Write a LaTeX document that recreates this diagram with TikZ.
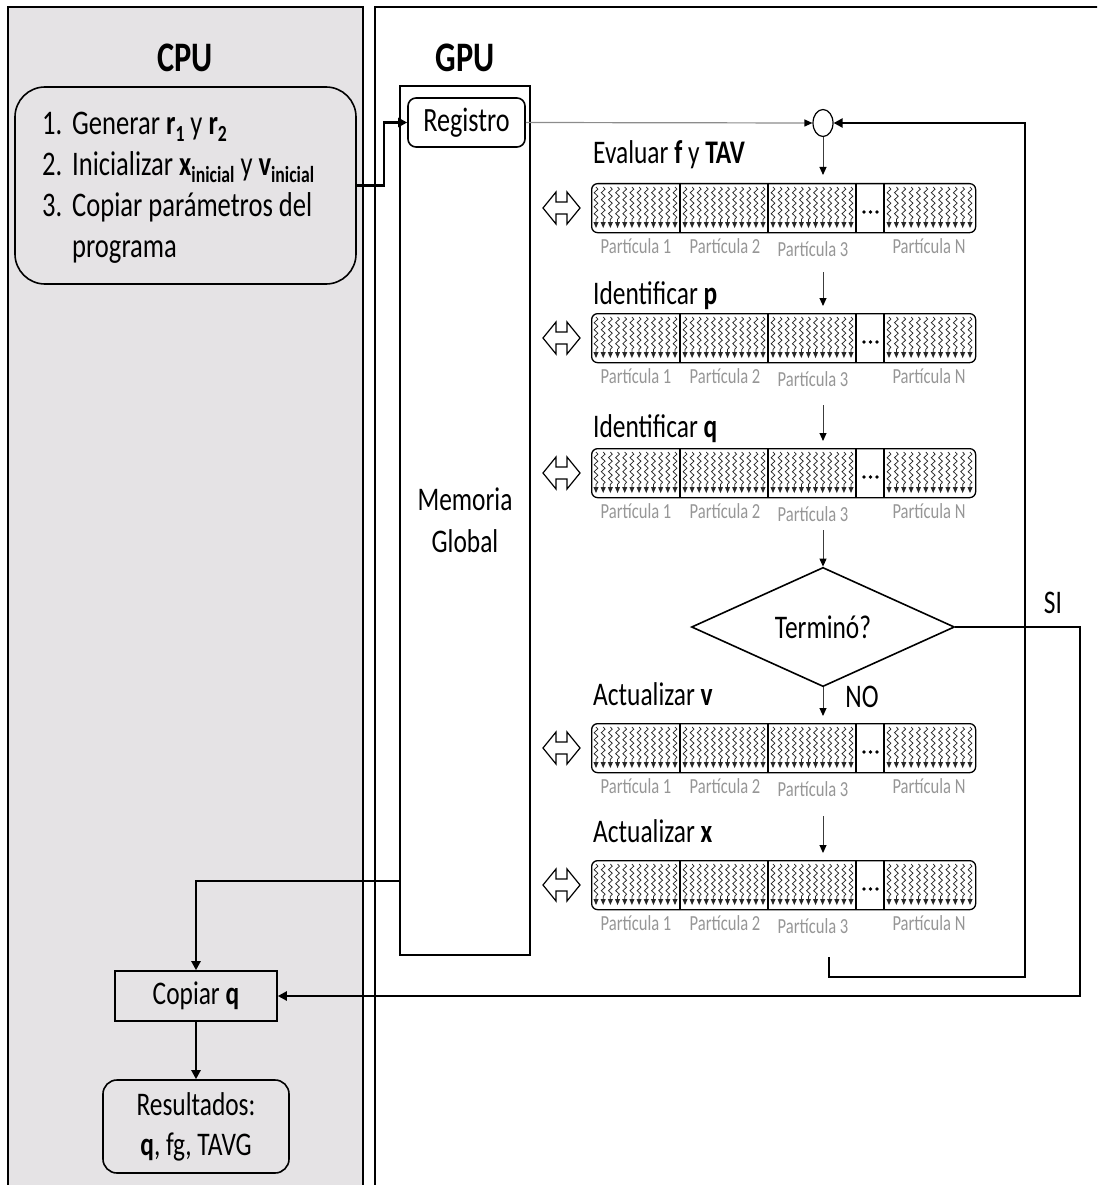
\documentclass[tikz,border=0pt]{standalone}
\usepackage{fontspec}
\setmainfont{Carlito}[FakeStretch=0.77]
\usetikzlibrary{arrows.meta,decorations.pathmorphing,shapes.geometric,calc}

\definecolor{cpugray}{RGB}{229,227,229}
\definecolor{lblgray}{RGB}{150,150,150}
\definecolor{linegray}{RGB}{140,140,140}
\definecolor{darkline}{RGB}{60,60,60}
\definecolor{squigcol}{RGB}{40,40,40}

\newcommand\mainsize{\fontsize{33}{41}\selectfont}
\newcommand\sbb[1]{\raisebox{-0.2em}{\fontsize{23}{23}\selectfont\textbf{#1}}}

% one row of particle blocks: #1 name, #2 top y, #3 title, #4 title baseline
\newcommand\gpurow[4]{%
  \node[rowtitle] (#1t) at (593,#4) {#3};
  \node[arraybox, anchor=north west] (#1) at (591,#2) {};
  \foreach \xa/\xb in {591/680,680/768,768/856,884/975}{
    \foreach \k in {0,...,11}{
      \pgfmathsetmacro\xx{\xa+5+\k*(\xb-\xa-10)/11}
      \draw[squig] (\xx,#2+4) -- (\xx,#2+39);
      \fill[squigcol] (\xx-2.6,#2+39) -- (\xx+2.6,#2+39) -- (\xx,#2+45) -- cycle;
    }
  }
  \foreach \xd in {680,768,856,884}{\draw[line width=1.1pt] (\xd,#2) -- (\xd,#2+49);}
  \foreach \xd in {864,870.5,877}{\fill (\xd,#2+29) circle (1.9);}
  \draw[line width=1.2pt, line join=miter]
    (543,#2+25) -- (556,#2+9) -- (556,#2+19) -- (567,#2+19) -- (567,#2+9)
    -- (580,#2+25) -- (567,#2+41) -- (567,#2+31) -- (556,#2+31) -- (556,#2+41) -- cycle;
  \node[plabel] (#1p1) at (636,#2+70) {Partícula 1};
  \node[plabel] (#1p2) at (725,#2+70) {Partícula 2};
  \node[plabel] (#1p3) at (813,#2+73) {Partícula 3};
  \node[plabel] (#1pN) at (929,#2+70) {Partícula N};
}

\begin{document}
\begin{tikzpicture}[x=1pt,y=-1pt, font=\mainsize,
  every node/.style={inner sep=0pt},
  panelline/.style={line width=1.6pt},
  box/.style={draw, line width=1.6pt, inner sep=0pt, align=center},
  flow/.style={line width=2.2pt, -{Triangle[length=9pt,width=9pt]}},
  down/.style={line width=1pt, draw=darkline, -{Triangle[length=8pt,width=7pt,color=black]}},
  arraybox/.style={draw, line width=1.3pt, rounded corners=6pt, minimum width=384pt, minimum height=49pt},
  squig/.style={draw=squigcol, line width=0.75pt, decorate, decoration={snake, segment length=7pt, amplitude=1.9pt}},
  plabel/.style={font=\fontsize{21.5}{24}\selectfont, text=lblgray, anchor=base},
  rowtitle/.style={anchor=base west},
  title/.style={font=\fontsize{42}{50}\selectfont\bfseries}
]
\clip (0,0) rectangle (1097,1185);

% panels
\fill[cpugray] (8,7) rectangle (363,1200);
\draw[panelline] (8,1200) -- (8,7) -- (363,7) -- (363,1200);
\draw[panelline] (375,1200) -- (375,7) -- (1100,7);

\node[title] (cpu) at (185,58) {CPU};
\node[title] (gpu) at (465,58) {GPU};

% CPU side
\node[box, rounded corners=30pt, minimum width=341pt, minimum height=197pt] (init) at (185.5,185.5) {};
\node[anchor=base west, font=\fontsize{34.5}{41}\selectfont] (initx) at (42,135) {\begin{tabular}[t]{@{}p{30pt}@{}l@{}}
1. & Generar \textbf{r}\sbb{1} y \textbf{r}\sbb{2}\\
2. & Inicializar \textbf{x}\sbb{inicial} y \textbf{v}\sbb{inicial}\\
3. & Copiar parámetros del\\
   & programa
\end{tabular}};

\node[box, minimum width=162pt, minimum height=50pt] (copiar) at (196,996) {Copiar \textbf{q}};
\node[box, rounded corners=14pt, minimum width=186pt, minimum height=93pt,
      font=\fontsize{33}{40}\selectfont] (res) at (196,1126.5) {Resultados:\\\textbf{q}, fg, TAVG};

% GPU side
\node[box, minimum width=130pt, minimum height=869pt, font=\fontsize{33}{42}\selectfont] (mem) at (465,520.5) {Memoria\\Global};
\node[box, rounded corners=8pt, minimum width=117pt, minimum height=49pt, font=\fontsize{34}{41}\selectfont] (reg) at (466.5,122.5) {Registro};
\node[draw, ellipse, line width=1.2pt, minimum width=20pt, minimum height=27pt] (join) at (823,123) {};

\gpurow{ra}{183}{Evaluar \textbf{f} y \textbf{TAV}}{164}
\gpurow{rb}{313}{Identificar \textbf{p}}{304}
\gpurow{rc}{448}{Identificar \textbf{q}}{437}
\gpurow{rd}{723}{Actualizar \textbf{v}}{705}
\gpurow{re}{860}{Actualizar \textbf{x}}{842}

\node[draw, diamond, line width=1.6pt, minimum width=263pt, minimum height=111pt] (fin) at (823,627) {Terminó?};
\node (si) at (1053,603) {SI};
\node (no) at (862,697) {NO};

% vertical flow through the GPU kernels
\coordinate (sb) at (823,272);
\coordinate (sc) at (823,405);
\coordinate (sd) at (823,530);
\coordinate (se) at (823,816);
\coordinate (lp) at (829,957);
\draw[down] (join.south) -- (join.south |- 0,175);
\draw[down] (sb) -- (823,306);
\draw[down] (sc) -- (823,441);
\draw[down] (sd) -- (fin.north);
\draw[down] (fin.south) -- (823,716);
\draw[down] (se) -- (823,853);

% register to loop start
\draw[line width=1.2pt, draw=linegray, -{Triangle[length=8pt,width=7pt,color=black]}] (reg.east) -- (join.west);

% loop back
\draw[flow] (lp) -- (829,977) -- (1025,977) -- (1025,123) -- (join.east);

% exit to CPU
\draw[flow] (fin.east) -- (1080,627) -- (1080,996) -- (copiar.east);

% CPU to register
\draw[flow] (init.east) -- (384,185.5) -- (384,122.5) -- (reg.west);

% global memory to CPU
\coordinate (memout) at (400,881);
\draw[flow] (memout) -- (196,881) -- (copiar.north);
\draw[flow] (copiar.south) -- (res.north);
\end{tikzpicture}
\end{document}
